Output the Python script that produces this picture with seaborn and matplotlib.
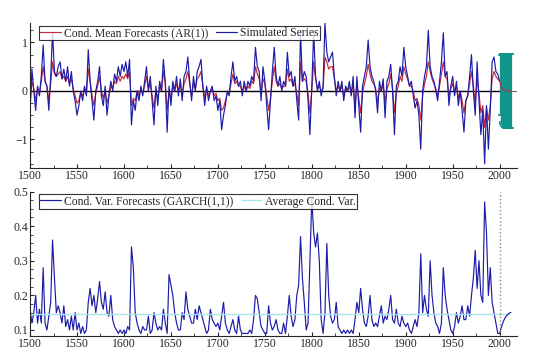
import numpy as np
import pandas as pd
import seaborn as sns
import matplotlib
matplotlib.use("Agg")
import matplotlib.pyplot as plt
from matplotlib.ticker import MultipleLocator

# years of the sample, every second year
years = list(range(1500, 2001, 2))

simulated = [
    -0.45, 0.45, 0.0, -0.4, 0.1, -0.1, 0.3, 0.95, 0.2, 0.1, -0.4, 0.3, 1.2, 0.4, 0.3, 0.5, 0.6, 0.25, 0.45, 0.2, 0.5, 0.1, 0.4, 0.0, -0.2,
    -0.5, -0.3, 0.0, -0.2, 0.1, -0.1, 0.85, 0.2, -0.2, -0.6, 0.0, 0.2, 0.5, -0.1, -0.3, 0.1, -0.5, -0.1, 0.2, 0.0, 0.35, 0.2, 0.5, 0.3, 0.55,
    0.4, 0.6, 0.3, 0.65, -0.7, -0.2, -0.4, 0.0, -0.2, 0.1, -0.1, 0.2, 0.5, 0.0, 0.3, -0.2, -0.7, 0.1, -0.3, 0.2, 0.0, 0.65, 0.2, -0.85, 0.1,
    -0.3, 0.2, 0.0, 0.3, -0.1, 0.25, -0.2, 0.3, 0.4, 0.7, 0.2, -0.2, 0.3, 0.0, 0.4, 0.5, 0.65, 0.1, -0.3, 0.1, -0.2, 0.0, 0.1, -0.2, -0.1,
    -0.4, -0.2, -0.8, -0.5, -0.3, 0.0, -0.1, 0.3, 0.6, 0.2, 0.3, 0.1, 0.2, -0.1, 0.2, 0.0, 0.2, 0.1, 0.3, 0.2, 0.9, 0.5, 0.4, -0.2, 0.5,
    0.2, -0.3, -0.8, -0.2, 0.4, 0.9, 0.3, 0.1, 0.3, 0.0, 0.2, 0.1, 0.8, 0.3, 0.4, 0.1, 0.3, -0.2, -0.6, 1.2, 0.2, 0.4, 0.3, -0.2, -0.9,
    0.1, 1.2, 0.3, 0.0, 0.2, -0.1, 0.1, 1.4, 0.8, 0.6, 0.7, 0.8, 0.3, -0.1, 0.2, 0.0, 0.2, -0.2, 0.1, 0.0, 0.2, -0.1, 0.3, -0.55, 0.3,
    -0.3, -0.85, 0.1, 0.3, 0.5, 1.05, 0.5, 0.3, 0.2, 0.0, -0.45, 0.2, 0.0, 0.25, -0.55, 0.2, 0.3, 0.55, 0.0, -0.9, 0.1, 0.2, 0.5, 0.3, 0.9,
    0.5, 0.3, 0.1, 0.2, -0.1, -0.35, -0.2, -0.5, -1.2, 0.0, 0.3, 0.5, 1.25, 0.5, 0.3, 0.2, 0.0, -0.2, 0.2, 0.6, 1.2, 0.3, 0.4, -0.3, 0.1,
    0.3, -0.1, 0.2, -0.3, 0.0, -0.4, -0.85, -0.2, -0.1, 0.3, 0.75, 0.0, -0.5, 0.6, -0.2, -0.9, -0.4, -1.5, -0.3, -1.2, -0.4, 0.6, 0.7, 0.4, 0.35,
    0.2,
]

mean_fc = [
    -0.25, 0.2, 0.05, -0.2, 0.05, -0.05, 0.2, 0.5, 0.2, 0.1, -0.2, 0.15, 0.6, 0.35, 0.3, 0.35, 0.4, 0.25, 0.3, 0.2, 0.3, 0.15, 0.25, 0.05, -0.1,
    -0.25, -0.2, -0.05, -0.1, 0.05, -0.05, 0.45, 0.2, -0.1, -0.3, -0.05, 0.1, 0.3, 0.0, -0.15, 0.0, -0.25, -0.1, 0.1, 0.05, 0.2, 0.15, 0.3, 0.2, 0.3,
    0.25, 0.35, 0.25, 0.4, -0.3, -0.15, -0.2, 0.0, -0.1, 0.05, -0.05, 0.1, 0.3, 0.05, 0.15, -0.1, -0.35, 0.0, -0.15, 0.1, 0.0, 0.4, 0.15, -0.4, 0.0,
    -0.15, 0.1, 0.0, 0.15, 0.0, 0.15, -0.1, 0.15, 0.25, 0.4, 0.15, -0.1, 0.15, 0.05, 0.25, 0.3, 0.4, 0.1, -0.15, 0.05, -0.1, 0.0, 0.05, -0.1, -0.05,
    -0.2, -0.15, -0.4, -0.35, -0.2, -0.05, -0.05, 0.15, 0.35, 0.15, 0.2, 0.1, 0.1, 0.0, 0.1, 0.0, 0.1, 0.05, 0.2, 0.15, 0.5, 0.35, 0.25, -0.05, 0.25,
    0.15, -0.1, -0.4, -0.15, 0.2, 0.5, 0.2, 0.1, 0.15, 0.05, 0.1, 0.1, 0.45, 0.2, 0.25, 0.1, 0.15, -0.05, -0.3, 0.6, 0.2, 0.25, 0.2, -0.05, -0.45,
    0.0, 0.6, 0.25, 0.05, 0.1, 0.0, 0.05, 0.7, 0.6, 0.45, 0.5, 0.5, 0.25, 0.0, 0.1, 0.0, 0.1, -0.1, 0.05, 0.0, 0.1, -0.05, 0.15, -0.3, 0.15,
    -0.15, -0.45, -0.05, 0.15, 0.3, 0.55, 0.35, 0.2, 0.15, 0.05, -0.25, 0.05, 0.0, 0.15, -0.25, 0.05, 0.15, 0.35, 0.05, -0.45, -0.05, 0.1, 0.3, 0.2, 0.5,
    0.35, 0.25, 0.1, 0.1, 0.0, -0.2, -0.15, -0.3, -0.6, -0.1, 0.15, 0.3, 0.6, 0.4, 0.25, 0.15, 0.05, -0.1, 0.1, 0.35, 0.6, 0.3, 0.25, -0.1, 0.05,
    0.15, 0.0, 0.1, -0.15, 0.0, -0.2, -0.45, -0.2, -0.1, 0.15, 0.4, 0.1, -0.25, 0.25, -0.05, -0.45, -0.3, -0.75, -0.35, -0.6, -0.3, 0.25, 0.4, 0.3, 0.25,
    0.2,
]

cond_var = [
    0.16, 0.12, 0.15, 0.2, 0.12, 0.16, 0.12, 0.28, 0.12, 0.1, 0.14, 0.18, 0.36, 0.25, 0.15, 0.17, 0.15, 0.12, 0.17, 0.11, 0.13, 0.1, 0.14, 0.1, 0.15,
    0.1, 0.12, 0.09, 0.11, 0.09, 0.1, 0.18, 0.22, 0.17, 0.2, 0.15, 0.19, 0.24, 0.18, 0.16, 0.21, 0.15, 0.14, 0.2, 0.13, 0.11, 0.1, 0.09, 0.1, 0.09,
    0.1, 0.09, 0.11, 0.1, 0.34, 0.28, 0.15, 0.12, 0.1, 0.09, 0.11, 0.1, 0.1, 0.14, 0.09, 0.1, 0.15, 0.12, 0.1, 0.11, 0.1, 0.16, 0.12, 0.09, 0.26,
    0.23, 0.2, 0.15, 0.12, 0.1, 0.1, 0.15, 0.13, 0.21, 0.16, 0.14, 0.12, 0.12, 0.16, 0.13, 0.17, 0.15, 0.13, 0.11, 0.09, 0.1, 0.16, 0.13, 0.12, 0.11,
    0.12, 0.1, 0.14, 0.18, 0.12, 0.1, 0.09, 0.11, 0.13, 0.1, 0.09, 0.14, 0.1, 0.09, 0.09, 0.09, 0.09, 0.1, 0.09, 0.13, 0.2, 0.19, 0.15, 0.11, 0.1,
    0.09, 0.09, 0.17, 0.12, 0.1, 0.11, 0.13, 0.1, 0.09, 0.09, 0.12, 0.09, 0.14, 0.2, 0.14, 0.11, 0.13, 0.2, 0.23, 0.37, 0.25, 0.18, 0.1, 0.12, 0.3,
    0.48, 0.38, 0.34, 0.38, 0.3, 0.13, 0.09, 0.15, 0.35, 0.2, 0.14, 0.12, 0.13, 0.18, 0.11, 0.1, 0.09, 0.1, 0.09, 0.1, 0.09, 0.1, 0.09, 0.13, 0.18,
    0.15, 0.22, 0.16, 0.12, 0.11, 0.14, 0.2, 0.13, 0.11, 0.12, 0.11, 0.14, 0.17, 0.12, 0.14, 0.13, 0.16, 0.2, 0.13, 0.12, 0.16, 0.12, 0.11, 0.14, 0.12,
    0.11, 0.12, 0.1, 0.09, 0.11, 0.13, 0.11, 0.15, 0.32, 0.15, 0.2, 0.16, 0.14, 0.3, 0.2, 0.15, 0.12, 0.11, 0.09, 0.12, 0.28, 0.2, 0.16, 0.13, 0.1,
    0.09, 0.11, 0.15, 0.12, 0.14, 0.17, 0.13, 0.13, 0.17, 0.14, 0.2, 0.25, 0.33, 0.22, 0.3, 0.2, 0.18, 0.47, 0.38, 0.2, 0.28, 0.18, 0.15, 0.12, 0.09,
    0.09,
]

# out-of-sample forecasts
fc_years = list(range(2000, 2013))
fc_mean = [0.2, 0.12, 0.07, 0.04, 0.02, 0.01, 0.0, 0.0, 0.0, 0.0, 0.0, 0.0, 0.0]
fc_band = [0.0, 0.62, 0.7, 0.73, 0.75, 0.75, 0.76, 0.76, 0.76, 0.76, 0.76, 0.76, 0.76]
fc_var = [0.09, 0.1, 0.11, 0.118, 0.125, 0.131, 0.136, 0.14, 0.143, 0.146, 0.148, 0.15, 0.151]
avg_var = 0.145

df = pd.DataFrame({'year': years, 'sim': simulated, 'mean': mean_fc, 'var': cond_var})
fc = pd.DataFrame({'year': fc_years, 'mean': fc_mean, 'band': fc_band, 'var': fc_var})

sns.set_style('ticks')
plt.rcParams['font.family'] = ['Liberation Serif', 'DejaVu Serif']
plt.rcParams['xtick.direction'] = 'in'
plt.rcParams['ytick.direction'] = 'in'

blue = '#1c1ca8'
red = '#c8283c'
teal = '#10958a'

fig = plt.figure(figsize=(5.4, 3.6), dpi=100)
ax1 = fig.add_axes([0.0556, 0.533, 0.901, 0.403])
ax2 = fig.add_axes([0.0556, 0.067, 0.901, 0.401])

# top panel
ax1.hlines(0, years[0], years[-1], color='black', lw=1.0, zorder=1)
ax1.hlines(0, years[-1], 2018, color='#666666', lw=0.8, zorder=1)
sns.lineplot(data=df, x='year', y='mean', ax=ax1, color=red, lw=0.85,
             label='Cond. Mean Forecasts (AR(1))')
sns.lineplot(data=df, x='year', y='sim', ax=ax1, color=blue, lw=0.85,
             label='Simulated Series')
ax1.errorbar(fc['year'][1:], fc['mean'][1:], yerr=fc['band'][1:], fmt='none',
             ecolor=teal, elinewidth=1.6, capsize=2.5, capthick=1.2, zorder=3)
sns.lineplot(data=fc, x='year', y='mean', ax=ax1, color=red, lw=0.8, zorder=4)

ax1.set_xlim(1500, 2018)
ax1.set_ylim(-1.59, 1.4)
ax1.set_yticks([-1, 0, 1])
ax1.yaxis.set_minor_locator(MultipleLocator(0.25))

# bottom panel
sns.lineplot(data=df, x='year', y='var', ax=ax2, color=blue, lw=0.85,
             label='Cond. Var. Forecasts (GARCH(1,1))')
ax2.hlines(avg_var, years[0], fc_years[-1] - 2, color='#a8e4ec', lw=1.0,
           label='Average Cond. Var.')
sns.lineplot(data=fc, x='year', y='var', ax=ax2, color=blue, lw=0.85)
ax2.axvline(years[-1], color='#888888', ls=':', lw=1.0)

ax2.set_xlim(1500, 2018)
ax2.set_ylim(0.083, 0.5)
ax2.set_yticks([0.1, 0.2, 0.3, 0.4, 0.5])
ax2.set_yticklabels(['0.1', '0.2', '0.3', '0.4', '0.5'])
ax2.yaxis.set_minor_locator(MultipleLocator(0.025))

for ax in (ax1, ax2):
    ax.set_xlabel('')
    ax.set_ylabel('')
    ax.set_xticks(range(1500, 2001, 50))
    ax.xaxis.set_minor_locator(MultipleLocator(25))
    ax.tick_params(labelsize=8.5, length=3, width=0.8, pad=1.5)
    ax.tick_params(which='minor', length=2, width=0.6)
    for s in ('top', 'right'):
        ax.spines[s].set_visible(False)
    for s in ('left', 'bottom'):
        ax.spines[s].set_linewidth(0.8)
    h, l = ax.get_legend_handles_labels()
    leg = ax.legend(h[:2], l[:2], loc='upper left', bbox_to_anchor=(0.018, 0.98),
                    ncol=2, fontsize=8.4, frameon=True, fancybox=False,
                    borderpad=0.1, handlelength=1.8, handletextpad=0.3,
                    columnspacing=0.6, borderaxespad=0)
    leg.get_frame().set_edgecolor('black')
    leg.get_frame().set_linewidth(0.8)

fig.savefig('out.png', dpi=100)
